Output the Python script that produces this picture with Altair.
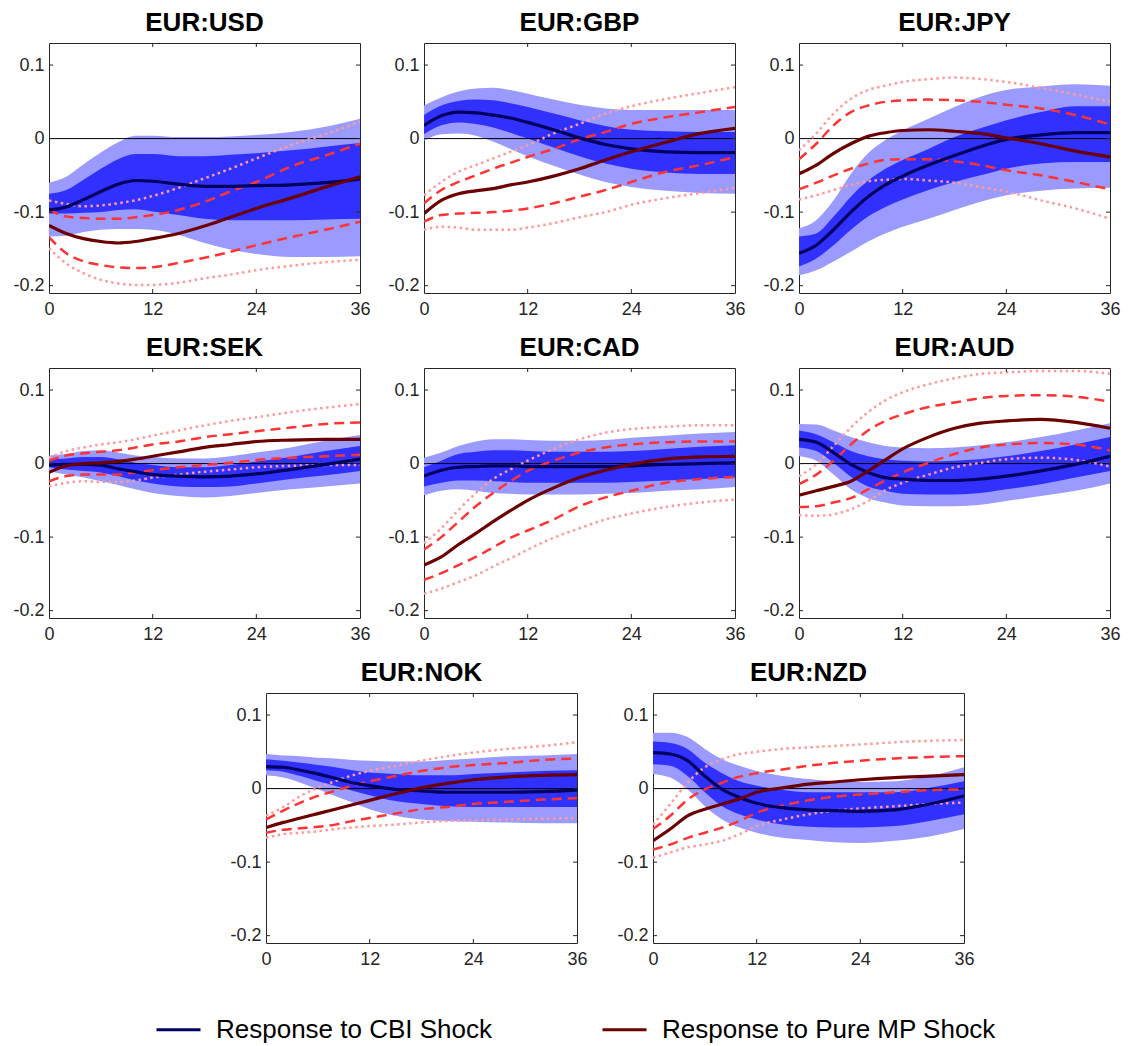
import altair as alt
import pandas as pd

FONT = "Liberation Sans"
MONTHS = [0, 2, 4, 6, 8, 10, 12, 15, 18, 21, 24, 28, 32, 36]
PAIRS = ["EUR:USD", "EUR:GBP", "EUR:JPY", "EUR:SEK", "EUR:CAD", "EUR:AUD", "EUR:NOK", "EUR:NZD"]
SERIES = ["Response to CBI Shock", "Response to Pure MP Shock"]
Y_TICKS = [-0.2, -0.1, 0, 0.1]
X_TICKS = [0, 12, 24, 36]

CBI = {
    "EUR:USD": [-0.097, -0.093, -0.083, -0.072, -0.062, -0.057, -0.058, -0.062, -0.065, -0.065, -0.064, -0.063, -0.060, -0.055],
    "EUR:GBP": [0.018, 0.031, 0.036, 0.035, 0.032, 0.028, 0.022, 0.012, 0.001, -0.008, -0.014, -0.018, -0.019, -0.019],
    "EUR:JPY": [-0.156, -0.145, -0.124, -0.100, -0.079, -0.063, -0.051, -0.036, -0.023, -0.011, -0.001, 0.005, 0.008, 0.008],
    "EUR:SEK": [-0.002, -0.001, -0.001, -0.002, -0.007, -0.011, -0.015, -0.017, -0.018, -0.017, -0.014, -0.008, -0.001, 0.006],
    "EUR:CAD": [-0.017, -0.009, -0.005, -0.004, -0.003, -0.003, -0.004, -0.004, -0.004, -0.004, -0.003, -0.001, 0.000, 0.001],
    "EUR:AUD": [0.033, 0.029, 0.015, -0.001, -0.012, -0.019, -0.021, -0.023, -0.023, -0.021, -0.017, -0.010, -0.001, 0.010],
    "EUR:NOK": [0.030, 0.029, 0.025, 0.020, 0.014, 0.008, 0.004, -0.001, -0.003, -0.005, -0.005, -0.005, -0.004, -0.002],
    "EUR:NZD": [0.049, 0.047, 0.038, 0.017, -0.001, -0.012, -0.020, -0.026, -0.029, -0.030, -0.031, -0.029, -0.021, -0.010],
}
CBI_90_HI = {
    "EUR:USD": [-0.060, -0.052, -0.035, -0.019, -0.005, 0.004, 0.004, 0.002, 0.002, 0.003, 0.005, 0.009, 0.016, 0.027],
    "EUR:GBP": [0.045, 0.056, 0.064, 0.068, 0.069, 0.066, 0.061, 0.053, 0.046, 0.041, 0.039, 0.039, 0.039, 0.039],
    "EUR:JPY": [-0.122, -0.111, -0.084, -0.048, -0.020, -0.002, 0.011, 0.027, 0.043, 0.057, 0.066, 0.071, 0.074, 0.072],
    "EUR:SEK": [0.011, 0.013, 0.017, 0.018, 0.015, 0.011, 0.009, 0.007, 0.007, 0.010, 0.015, 0.022, 0.031, 0.039],
    "EUR:CAD": [0.008, 0.015, 0.024, 0.030, 0.033, 0.033, 0.032, 0.031, 0.031, 0.032, 0.035, 0.038, 0.041, 0.043],
    "EUR:AUD": [0.054, 0.053, 0.045, 0.036, 0.029, 0.024, 0.022, 0.021, 0.022, 0.025, 0.029, 0.036, 0.045, 0.055],
    "EUR:NOK": [0.047, 0.045, 0.044, 0.042, 0.041, 0.039, 0.038, 0.037, 0.037, 0.039, 0.041, 0.044, 0.045, 0.047],
    "EUR:NZD": [0.076, 0.076, 0.070, 0.054, 0.040, 0.031, 0.024, 0.017, 0.013, 0.010, 0.009, 0.010, 0.017, 0.029],
}
CBI_90_LO = {
    "EUR:USD": [-0.133, -0.132, -0.127, -0.124, -0.123, -0.123, -0.124, -0.131, -0.142, -0.151, -0.157, -0.161, -0.161, -0.160],
    "EUR:GBP": [-0.003, 0.006, 0.007, 0.004, -0.004, -0.014, -0.024, -0.037, -0.049, -0.059, -0.066, -0.071, -0.074, -0.075],
    "EUR:JPY": [-0.186, -0.179, -0.167, -0.154, -0.140, -0.129, -0.120, -0.109, -0.097, -0.086, -0.077, -0.071, -0.068, -0.067],
    "EUR:SEK": [-0.010, -0.015, -0.019, -0.024, -0.029, -0.035, -0.040, -0.044, -0.046, -0.044, -0.040, -0.035, -0.031, -0.027],
    "EUR:CAD": [-0.043, -0.037, -0.035, -0.037, -0.040, -0.041, -0.042, -0.042, -0.042, -0.041, -0.040, -0.037, -0.035, -0.032],
    "EUR:AUD": [0.010, 0.004, -0.015, -0.035, -0.047, -0.053, -0.057, -0.058, -0.058, -0.056, -0.051, -0.044, -0.037, -0.027],
    "EUR:NOK": [0.018, 0.015, 0.008, -0.001, -0.010, -0.019, -0.028, -0.037, -0.042, -0.044, -0.045, -0.046, -0.047, -0.047],
    "EUR:NZD": [0.020, 0.015, -0.001, -0.024, -0.042, -0.053, -0.060, -0.067, -0.070, -0.073, -0.074, -0.071, -0.065, -0.055],
}
CBI_68_HI = {
    "EUR:USD": [-0.075, -0.070, -0.056, -0.041, -0.028, -0.021, -0.021, -0.024, -0.024, -0.022, -0.020, -0.016, -0.011, -0.006],
    "EUR:GBP": [0.032, 0.045, 0.051, 0.053, 0.052, 0.048, 0.043, 0.034, 0.025, 0.017, 0.012, 0.010, 0.009, 0.009],
    "EUR:JPY": [-0.133, -0.129, -0.106, -0.079, -0.057, -0.041, -0.029, -0.014, 0.002, 0.014, 0.025, 0.036, 0.044, 0.044],
    "EUR:SEK": [0.006, 0.007, 0.009, 0.009, 0.006, 0.001, -0.002, -0.005, -0.005, -0.002, 0.003, 0.009, 0.017, 0.024],
    "EUR:CAD": [-0.005, 0.004, 0.013, 0.016, 0.018, 0.018, 0.017, 0.016, 0.016, 0.016, 0.017, 0.020, 0.023, 0.025],
    "EUR:AUD": [0.045, 0.040, 0.029, 0.017, 0.010, 0.006, 0.004, 0.003, 0.004, 0.006, 0.010, 0.017, 0.026, 0.036],
    "EUR:NOK": [0.040, 0.038, 0.035, 0.032, 0.029, 0.025, 0.022, 0.020, 0.018, 0.018, 0.020, 0.022, 0.024, 0.025],
    "EUR:NZD": [0.064, 0.062, 0.054, 0.035, 0.021, 0.010, 0.004, -0.002, -0.005, -0.005, -0.005, -0.005, 0.001, 0.010],
}
CBI_68_LO = {
    "EUR:USD": [-0.102, -0.102, -0.101, -0.100, -0.097, -0.096, -0.099, -0.104, -0.109, -0.111, -0.111, -0.111, -0.110, -0.109],
    "EUR:GBP": [0.006, 0.018, 0.022, 0.020, 0.015, 0.008, 0.000, -0.012, -0.024, -0.034, -0.041, -0.046, -0.048, -0.048],
    "EUR:JPY": [-0.174, -0.163, -0.145, -0.124, -0.106, -0.093, -0.083, -0.070, -0.059, -0.050, -0.041, -0.034, -0.032, -0.032],
    "EUR:SEK": [-0.005, -0.008, -0.010, -0.012, -0.017, -0.023, -0.027, -0.031, -0.032, -0.031, -0.027, -0.021, -0.016, -0.010],
    "EUR:CAD": [-0.031, -0.026, -0.023, -0.023, -0.024, -0.025, -0.026, -0.026, -0.026, -0.026, -0.025, -0.023, -0.021, -0.019],
    "EUR:AUD": [0.022, 0.017, 0.001, -0.018, -0.031, -0.037, -0.041, -0.042, -0.042, -0.040, -0.035, -0.028, -0.019, -0.010],
    "EUR:NOK": [0.025, 0.023, 0.017, 0.010, 0.004, -0.003, -0.009, -0.017, -0.021, -0.024, -0.025, -0.025, -0.025, -0.025],
    "EUR:NZD": [0.033, 0.031, 0.017, -0.005, -0.024, -0.035, -0.042, -0.049, -0.052, -0.053, -0.053, -0.051, -0.044, -0.035],
}
MP = {
    "EUR:USD": [-0.118, -0.129, -0.136, -0.140, -0.142, -0.140, -0.136, -0.129, -0.119, -0.107, -0.095, -0.081, -0.066, -0.052],
    "EUR:GBP": [-0.102, -0.084, -0.075, -0.071, -0.068, -0.063, -0.059, -0.051, -0.041, -0.029, -0.018, -0.005, 0.007, 0.014],
    "EUR:JPY": [-0.048, -0.036, -0.020, -0.007, 0.003, 0.008, 0.011, 0.012, 0.010, 0.007, 0.001, -0.007, -0.017, -0.025],
    "EUR:SEK": [-0.012, -0.003, 0.000, 0.001, 0.003, 0.006, 0.010, 0.016, 0.022, 0.026, 0.030, 0.032, 0.033, 0.033],
    "EUR:CAD": [-0.138, -0.127, -0.110, -0.095, -0.079, -0.064, -0.050, -0.033, -0.019, -0.009, -0.001, 0.006, 0.009, 0.010],
    "EUR:AUD": [-0.043, -0.037, -0.031, -0.024, -0.010, 0.005, 0.020, 0.036, 0.048, 0.055, 0.058, 0.060, 0.056, 0.048],
    "EUR:NOK": [-0.053, -0.046, -0.040, -0.034, -0.028, -0.022, -0.016, -0.007, 0.001, 0.007, 0.012, 0.016, 0.018, 0.019],
    "EUR:NZD": [-0.071, -0.055, -0.037, -0.028, -0.021, -0.014, -0.005, 0.001, 0.006, 0.009, 0.012, 0.015, 0.017, 0.019],
}
MP_68_HI = {
    "EUR:USD": [-0.097, -0.106, -0.108, -0.109, -0.109, -0.107, -0.104, -0.097, -0.086, -0.072, -0.059, -0.038, -0.023, -0.007],
    "EUR:GBP": [-0.088, -0.070, -0.059, -0.050, -0.041, -0.033, -0.025, -0.014, -0.001, 0.009, 0.020, 0.029, 0.036, 0.043],
    "EUR:JPY": [-0.028, -0.007, 0.018, 0.036, 0.045, 0.050, 0.052, 0.053, 0.052, 0.050, 0.046, 0.041, 0.032, 0.019],
    "EUR:SEK": [0.004, 0.011, 0.014, 0.016, 0.018, 0.022, 0.026, 0.030, 0.036, 0.040, 0.044, 0.049, 0.054, 0.056],
    "EUR:CAD": [-0.117, -0.100, -0.079, -0.058, -0.040, -0.024, -0.010, 0.004, 0.015, 0.022, 0.026, 0.029, 0.030, 0.030],
    "EUR:AUD": [-0.028, -0.015, 0.004, 0.026, 0.045, 0.058, 0.067, 0.077, 0.083, 0.089, 0.092, 0.093, 0.091, 0.084],
    "EUR:NOK": [-0.042, -0.030, -0.019, -0.010, -0.003, 0.004, 0.010, 0.017, 0.024, 0.029, 0.032, 0.035, 0.039, 0.041],
    "EUR:NZD": [-0.055, -0.037, -0.015, -0.001, 0.008, 0.016, 0.021, 0.026, 0.031, 0.035, 0.038, 0.041, 0.043, 0.044],
}
MP_68_LO = {
    "EUR:USD": [-0.134, -0.156, -0.167, -0.172, -0.175, -0.176, -0.175, -0.169, -0.162, -0.154, -0.145, -0.134, -0.124, -0.113],
    "EUR:GBP": [-0.113, -0.104, -0.102, -0.101, -0.100, -0.098, -0.095, -0.088, -0.079, -0.070, -0.059, -0.045, -0.036, -0.025],
    "EUR:JPY": [-0.069, -0.060, -0.050, -0.041, -0.034, -0.029, -0.028, -0.028, -0.031, -0.036, -0.043, -0.050, -0.059, -0.069],
    "EUR:SEK": [-0.024, -0.017, -0.015, -0.015, -0.015, -0.012, -0.009, -0.005, -0.002, 0.001, 0.005, 0.008, 0.010, 0.012],
    "EUR:CAD": [-0.158, -0.149, -0.138, -0.127, -0.114, -0.101, -0.091, -0.076, -0.058, -0.046, -0.037, -0.026, -0.021, -0.018],
    "EUR:AUD": [-0.059, -0.058, -0.053, -0.047, -0.035, -0.023, -0.012, 0.001, 0.013, 0.022, 0.026, 0.028, 0.026, 0.018],
    "EUR:NOK": [-0.060, -0.056, -0.054, -0.052, -0.049, -0.044, -0.040, -0.034, -0.028, -0.025, -0.021, -0.018, -0.015, -0.013],
    "EUR:NZD": [-0.083, -0.076, -0.067, -0.060, -0.053, -0.044, -0.033, -0.023, -0.016, -0.011, -0.008, -0.005, -0.002, -0.001],
}
MP_90_HI = {
    "EUR:USD": [-0.084, -0.089, -0.092, -0.091, -0.088, -0.084, -0.078, -0.067, -0.054, -0.041, -0.027, -0.009, 0.006, 0.023],
    "EUR:GBP": [-0.077, -0.059, -0.045, -0.036, -0.027, -0.018, -0.009, 0.007, 0.020, 0.034, 0.044, 0.054, 0.062, 0.070],
    "EUR:JPY": [-0.016, 0.007, 0.034, 0.054, 0.066, 0.072, 0.077, 0.081, 0.083, 0.081, 0.077, 0.069, 0.060, 0.050],
    "EUR:SEK": [0.008, 0.017, 0.022, 0.026, 0.029, 0.033, 0.038, 0.045, 0.052, 0.058, 0.063, 0.070, 0.076, 0.081],
    "EUR:CAD": [-0.108, -0.088, -0.063, -0.040, -0.021, -0.008, 0.004, 0.020, 0.033, 0.042, 0.047, 0.050, 0.052, 0.052],
    "EUR:AUD": [-0.017, -0.001, 0.024, 0.049, 0.070, 0.086, 0.097, 0.108, 0.116, 0.122, 0.124, 0.126, 0.126, 0.122],
    "EUR:NOK": [-0.037, -0.025, -0.010, 0.001, 0.010, 0.018, 0.024, 0.031, 0.038, 0.044, 0.049, 0.054, 0.058, 0.063],
    "EUR:NZD": [-0.049, -0.021, 0.008, 0.029, 0.040, 0.047, 0.050, 0.054, 0.056, 0.058, 0.060, 0.063, 0.065, 0.066],
}
MP_90_LO = {
    "EUR:USD": [-0.149, -0.170, -0.183, -0.192, -0.197, -0.199, -0.199, -0.196, -0.190, -0.185, -0.179, -0.173, -0.168, -0.165],
    "EUR:GBP": [-0.124, -0.120, -0.121, -0.124, -0.124, -0.124, -0.121, -0.115, -0.107, -0.100, -0.090, -0.081, -0.074, -0.067],
    "EUR:JPY": [-0.083, -0.077, -0.070, -0.063, -0.058, -0.056, -0.055, -0.057, -0.060, -0.066, -0.072, -0.084, -0.095, -0.109],
    "EUR:SEK": [-0.031, -0.026, -0.024, -0.025, -0.025, -0.023, -0.019, -0.015, -0.011, -0.008, -0.005, -0.003, -0.002, -0.002],
    "EUR:CAD": [-0.177, -0.170, -0.161, -0.152, -0.140, -0.129, -0.117, -0.101, -0.088, -0.076, -0.068, -0.059, -0.053, -0.049],
    "EUR:AUD": [-0.070, -0.071, -0.069, -0.062, -0.051, -0.036, -0.026, -0.015, -0.005, 0.001, 0.006, 0.008, 0.005, -0.004],
    "EUR:NOK": [-0.067, -0.062, -0.060, -0.058, -0.055, -0.053, -0.051, -0.049, -0.046, -0.044, -0.043, -0.042, -0.041, -0.040],
    "EUR:NZD": [-0.094, -0.087, -0.080, -0.076, -0.071, -0.062, -0.051, -0.042, -0.035, -0.030, -0.027, -0.024, -0.021, -0.019],
}

LIGHT = "#9a9aff"
DARK = "#3030ff"
NAVY = "#00005e"
MAROON = "#6b0000"
DASH = "#ff3333"
DOT = "#ff9a9a"
AXC = "#262626"

W, H = 311, 250
TK = 4

xscale = alt.Scale(domain=[0, 36], nice=False, zero=False)
yscale = alt.Scale(domain=[-0.21, 0.13], nice=False, zero=False)

xaxis = alt.Axis(values=X_TICKS, title=None, ticks=False, tickSize=0, domain=False, grid=False,
                 labelPadding=7, labelFontSize=18, labelFont=FONT, labelColor=AXC, labelFlush=False)
yaxis = alt.Axis(values=Y_TICKS, title=None, ticks=False, tickSize=0, domain=False, grid=False,
                 labelPadding=5, labelFontSize=18, labelFont=FONT, labelColor=AXC,
                 labelExpr="datum.value == 0 ? '0' : (datum.value < 0 ? '-' + format(-datum.value, '.1f') : format(datum.value, '.1f'))")


def panel(pair):
    df = pd.DataFrame({
        "month": MONTHS,
        "b90lo": CBI_90_LO[pair], "b90hi": CBI_90_HI[pair],
        "b68lo": CBI_68_LO[pair], "b68hi": CBI_68_HI[pair],
    })
    n = len(MONTHS)
    lines = pd.DataFrame({
        "month": MONTHS * 2,
        "value": CBI[pair] + MP[pair],
        "series": [SERIES[0]] * n + [SERIES[1]] * n,
    })
    dashed = pd.DataFrame({
        "month": MONTHS * 2,
        "value": MP_68_HI[pair] + MP_68_LO[pair],
        "bound": ["hi"] * n + ["lo"] * n,
    })
    dotted = pd.DataFrame({
        "month": MONTHS * 2,
        "value": MP_90_HI[pair] + MP_90_LO[pair],
        "bound": ["hi"] * n + ["lo"] * n,
    })
    base = alt.Chart(df)
    outer = base.mark_area(color=LIGHT, interpolate="monotone", opacity=1, clip=True).encode(
        x=alt.X("month:Q", scale=xscale, axis=xaxis),
        y=alt.Y("b90lo:Q", scale=yscale, axis=yaxis),
        y2="b90hi:Q",
    )
    inner = base.mark_area(color=DARK, interpolate="monotone", opacity=1, clip=True).encode(
        x="month:Q", y="b68lo:Q", y2="b68hi:Q"
    )
    zero = alt.Chart(pd.DataFrame({"v": [0]})).mark_rule(color="black", strokeWidth=1).encode(y="v:Q")
    dot = alt.Chart(dotted).mark_line(color=DOT, strokeWidth=2.5, strokeDash=[2.5, 3.5],
                                      interpolate="monotone", clip=True).encode(
        x="month:Q", y="value:Q", detail="bound:N")
    dsh = alt.Chart(dashed).mark_line(color=DASH, strokeWidth=2.5, strokeDash=[10, 6],
                                      interpolate="monotone", clip=True).encode(
        x="month:Q", y="value:Q", detail="bound:N")
    main = alt.Chart(lines).mark_line(strokeWidth=3.2, interpolate="monotone", clip=True).encode(
        x="month:Q", y="value:Q",
        color=alt.Color("series:N", scale=alt.Scale(domain=SERIES, range=[NAVY, MAROON]),
                        legend=alt.Legend(title=None)),
        order=alt.Order("month:Q"),
    )
    yt = pd.DataFrame({"v": Y_TICKS})
    xt = pd.DataFrame({"m": [12, 24]})
    tl = alt.Chart(yt).mark_rule(color=AXC, strokeWidth=1).encode(y="v:Q", x=alt.value(0), x2=alt.value(TK))
    tr = alt.Chart(yt).mark_rule(color=AXC, strokeWidth=1).encode(y="v:Q", x=alt.value(W - TK), x2=alt.value(W))
    tb = alt.Chart(xt).mark_rule(color=AXC, strokeWidth=1).encode(x="m:Q", y=alt.value(H - TK), y2=alt.value(H))
    tt = alt.Chart(xt).mark_rule(color=AXC, strokeWidth=1).encode(x="m:Q", y=alt.value(0), y2=alt.value(TK))
    return alt.layer(outer, inner, zero, dot, dsh, main, tl, tr, tb, tt).properties(
        width=W, height=H,
        title=alt.TitleParams(pair, fontSize=26, fontWeight="bold", font=FONT, color="black", offset=7),
    )


spacer = alt.Chart(pd.DataFrame({"a": [0]})).mark_point(opacity=0).encode(
    x=alt.value(0), y=alt.value(0)
).properties(width=141, height=H, view=alt.ViewBackground(stroke=None))

row1 = alt.hconcat(*[panel(p) for p in PAIRS[0:3]], spacing=64, bounds="flush")
row2 = alt.hconcat(*[panel(p) for p in PAIRS[3:6]], spacing=64, bounds="flush")
row3 = alt.hconcat(spacer, panel(PAIRS[6]), panel(PAIRS[7]), spacing=76, bounds="flush")

chart = alt.vconcat(row1, row2, row3, spacing=15).properties(
    padding={"left": 12, "top": 9, "right": 5, "bottom": 5}
).configure_view(
    stroke=AXC, strokeWidth=1
).configure_legend(
    orient="none", legendX=106, legendY=963, direction="horizontal",
    symbolType="stroke", symbolSize=1936, symbolStrokeWidth=3,
    labelFontSize=26, labelFont=FONT, labelColor="black", labelLimit=400,
    columnPadding=103, labelOffset=14
)

chart.save("out.html", embed_options={"renderer": "svg", "actions": False})
